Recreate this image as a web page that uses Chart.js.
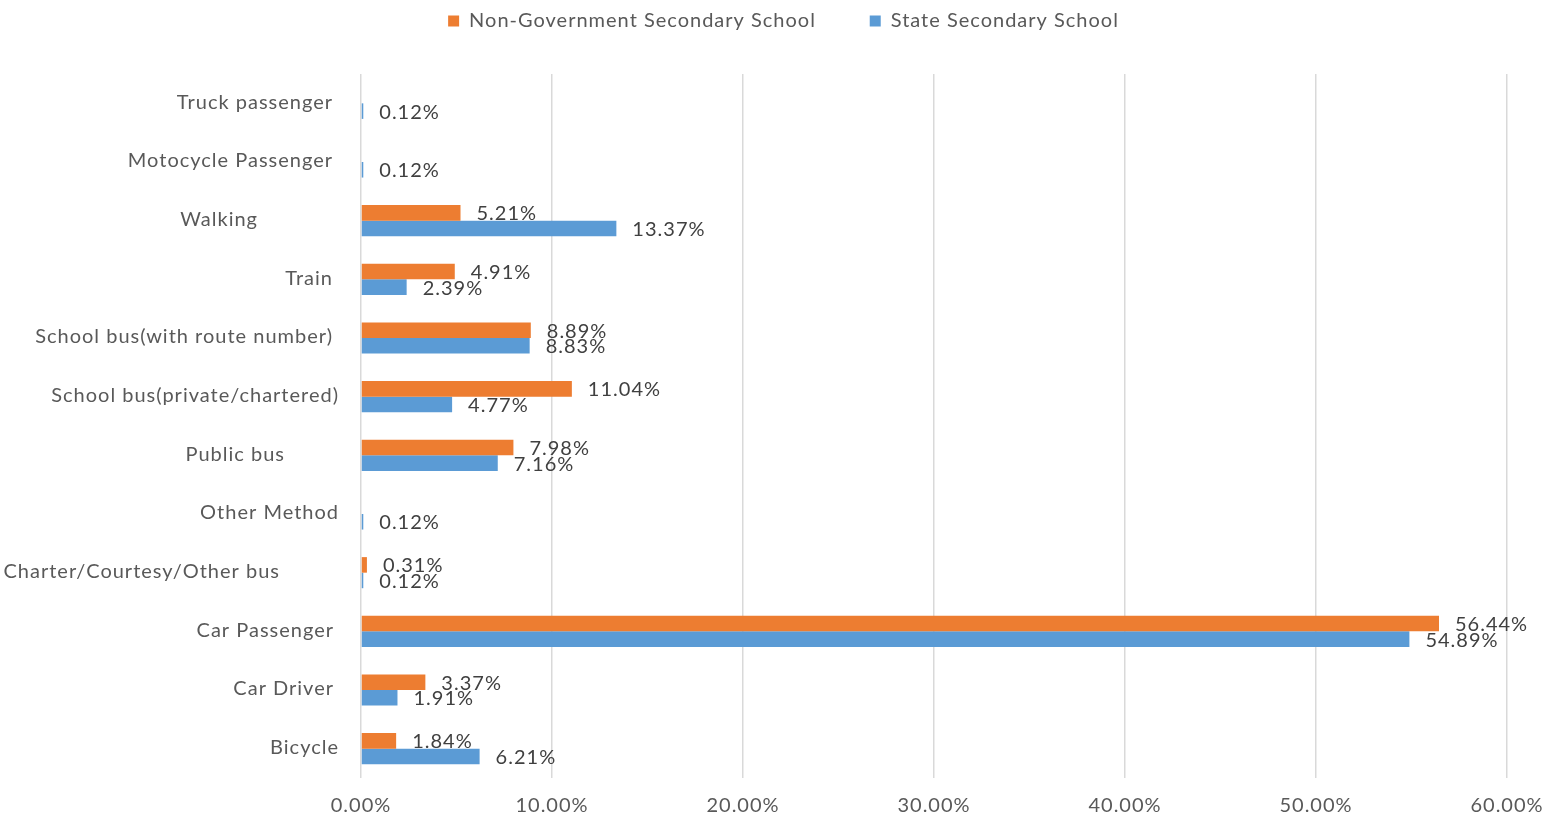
<!DOCTYPE html>
<html>
<head>
<meta charset="utf-8">
<script src="https://cdn.jsdelivr.net/npm/chart.js@4.4.1/dist/chart.umd.min.js"></script>
<style>
  html, body { margin: 0; padding: 0; background: #fff; }
  #wrap { width: 1547px; height: 821px; position: relative; }
</style>
</head>
<body>
<div id="wrap"><canvas id="c" width="1547" height="821"></canvas></div>
<script>
const categories = [
  'Truck passenger',
  'Motocycle Passenger',
  'Walking',
  'Train',
  'School bus(with route number)',
  'School bus(private/chartered)',
  'Public bus',
  'Other Method',
  'Charter/Courtesy/Other bus',
  'Car Passenger',
  'Car Driver',
  'Bicycle'
];
const nonGovernment = [null, null, 5.21, 4.91, 8.89, 11.04, 7.98, null, 0.31, 56.44, 3.37, 1.84];
const stateSchool   = [0.12, 0.12, 13.37, 2.39, 8.83, 4.77, 7.16, 0.12, 0.12, 54.89, 1.91, 6.21];
const seriesNames = ['Non-Government Secondary School', 'State Secondary School'];
const xTickMax = 60;
const xTickStep = 10;

// styling: right edge of each category label (Excel places them unevenly)
const labelRightEdge = [333, 333, 258, 333, 333, 339, 285, 339, 280, 334, 334, 339];

const FONT = 'Lato, "Open Sans", sans-serif';
const SPACING = '1px';

const letterSpacing = {
  id: 'letterSpacing',
  beforeUpdate(chart) { chart.ctx.letterSpacing = SPACING; },
  beforeLayout(chart) { chart.ctx.letterSpacing = SPACING; },
  beforeDraw(chart) { chart.ctx.letterSpacing = SPACING; }
};

const catLabels = {
  id: 'catLabels',
  afterDraw(chart) {
    const y = chart.scales.y, ctx = chart.ctx;
    ctx.save();
    ctx.letterSpacing = SPACING;
    ctx.font = '20px ' + FONT;
    ctx.fillStyle = '#595959';
    ctx.textAlign = 'right';
    ctx.textBaseline = 'middle';
    categories.forEach((c, i) => {
      ctx.fillText(c, labelRightEdge[i], y.getPixelForValue(i) - 1);
    });
    ctx.restore();
  }
};

const valueLabels = {
  id: 'valueLabels',
  afterDatasetsDraw(chart) {
    const ctx = chart.ctx;
    ctx.save();
    ctx.letterSpacing = SPACING;
    ctx.font = '20px ' + FONT;
    ctx.fillStyle = '#404040';
    ctx.textAlign = 'left';
    ctx.textBaseline = 'middle';
    chart.data.datasets.forEach((ds, di) => {
      const meta = chart.getDatasetMeta(di);
      meta.data.forEach((el, i) => {
        const v = ds.data[i];
        if (v === null || v === undefined) return;
        ctx.fillText(v.toFixed(2) + '%', el.x + 16, el.y + 1);
      });
    });
    ctx.restore();
  }
};

const legendFit = {
  id: 'legendFit',
  beforeInit(chart) {
    const orig = chart.legend.fit;
    chart.legend.fit = function () {
      orig.bind(chart.legend)();
      this.height = 74;
    };
  },
  afterLayout(chart) {
    // shift the centred legend row slightly right, as in the reference
    chart.legend.left += 60;
  }
};

new Chart(document.getElementById('c'), {
  type: 'bar',
  data: {
    labels: categories,
    datasets: [
      { label: seriesNames[0], data: nonGovernment, backgroundColor: '#ED7D31', borderWidth: 0 },
      { label: seriesNames[1], data: stateSchool, backgroundColor: '#5B9BD5', borderWidth: 0 }
    ]
  },
  options: {
    indexAxis: 'y',
    responsive: false,
    animation: false,
    layout: { padding: { left: 0, right: 40, top: 0, bottom: 0 } },
    datasets: { bar: { categoryPercentage: 0.53, barPercentage: 1.0 } },
    scales: {
      x: {
        min: 0, max: xTickMax,
        ticks: {
          stepSize: xTickStep,
          color: '#595959',
          font: { family: FONT, size: 20 },
          padding: 16,
          maxRotation: 0,
          callback: v => Number(v).toFixed(2) + '%'
        },
        grid: { color: '#D9D9D9', lineWidth: 1.5, drawTicks: false },
        border: { display: false },
        afterFit(s) { s.height = 43; s.paddingLeft = 0; s.paddingRight = 0; }
      },
      y: {
        ticks: { display: false },
        grid: { display: false },
        border: { display: false },
        afterFit(s) { s.width = 361; }
      }
    },
    plugins: {
      legend: {
        position: 'top',
        labels: {
          color: '#595959',
          font: { family: FONT, size: 20 },
          boxWidth: 11,
          boxHeight: 11,
          padding: 11,
          generateLabels(chart) {
            const items = Chart.defaults.plugins.legend.labels.generateLabels(chart);
            items.forEach((it, i) => { if (i === 0) it.text = it.text + '       '; });
            return items;
          }
        }
      },
      tooltip: { enabled: false }
    }
  },
  plugins: [letterSpacing, legendFit, catLabels, valueLabels]
});
</script>
</body>
</html>
